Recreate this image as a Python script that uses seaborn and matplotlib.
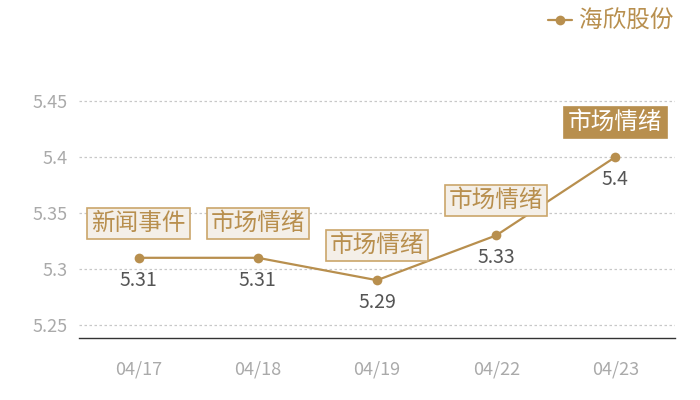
import matplotlib
matplotlib.use("Agg")
import matplotlib.pyplot as plt
import seaborn as sns
import pandas as pd

dates = ["04/17", "04/18", "04/19", "04/22", "04/23"]
prices = [5.31, 5.31, 5.29, 5.33, 5.40]
events = ["新闻事件", "市场情绪", "市场情绪", "市场情绪", "市场情绪"]
highlight = [False, False, False, False, True]
yticks = [5.25, 5.30, 5.35, 5.40, 5.45]
ytick_labels = ["5.25", "5.3", "5.35", "5.4", "5.45"]
series_name = "海欣股份"

GOLD = "#B88F4E"
BOX_FILL = "#F4EFE8"
BOX_EDGE = "#CBA66B"

sns.set_theme(style="white")
plt.rcParams["font.family"] = ["Noto Sans CJK SC", "DejaVu Sans"]

df = pd.DataFrame({"date": dates, "price": prices, "x": range(len(dates))})

fig = plt.figure(figsize=(7, 4), dpi=100)
ax = fig.add_axes([79 / 700, 62 / 400, 596 / 700, 278 / 400])

sns.lineplot(data=df, x="x", y="price", ax=ax, color=GOLD, linewidth=1.6,
             marker="o", markersize=7, markeredgewidth=0, label=series_name,
             legend=False)

ax.set_xlim(-0.5, len(dates) - 0.5)
ax.set_ylim(5.2384, 5.4866)
ax.set_xticks(range(len(dates)))
ax.set_xticklabels(dates)
ax.set_yticks(yticks)
ax.set_yticklabels(ytick_labels)
ax.set_xlabel("")
ax.set_ylabel("")
ax.tick_params(axis="x", colors="#AAAAAA", labelsize=13, length=0, pad=16)
ax.tick_params(axis="y", colors="#AAAAAA", labelsize=13, length=0, pad=8)

for y in yticks:
    ax.axhline(y, color="#C8C8C8", linewidth=0.9, linestyle=(0, (2, 2)), zorder=0)

for s in ["top", "right", "left"]:
    ax.spines[s].set_visible(False)
ax.spines["bottom"].set_color("#333333")
ax.spines["bottom"].set_linewidth(1)

for i, (p, ev, hl) in enumerate(zip(prices, events, highlight)):
    ax.annotate(f"{p:g}", (i, p), xytext=(0, -16), textcoords="offset points",
                ha="center", va="center", fontsize=14, color="#555555")
    ax.annotate(ev, (i, p), xytext=(0, 25), textcoords="offset points",
                ha="center", va="center", fontsize=17,
                color="white" if hl else GOLD,
                bbox=dict(boxstyle="square,pad=0.17",
                          facecolor=GOLD if hl else BOX_FILL,
                          edgecolor=GOLD if hl else BOX_EDGE, linewidth=1.2))

# legend
fig.lines.append(plt.Line2D([548 / 700, 572 / 700], [1 - 20 / 400, 1 - 20 / 400],
                            color=GOLD, linewidth=1.6, transform=fig.transFigure))
fig.lines.append(plt.Line2D([560 / 700], [1 - 20 / 400], color=GOLD, marker="o",
                            markersize=7, markeredgewidth=0, transform=fig.transFigure))
fig.text(579 / 700, 1 - 20 / 400, series_name, color=GOLD, fontsize=17,
         ha="left", va="center")

fig.savefig("out.png", dpi=100)
